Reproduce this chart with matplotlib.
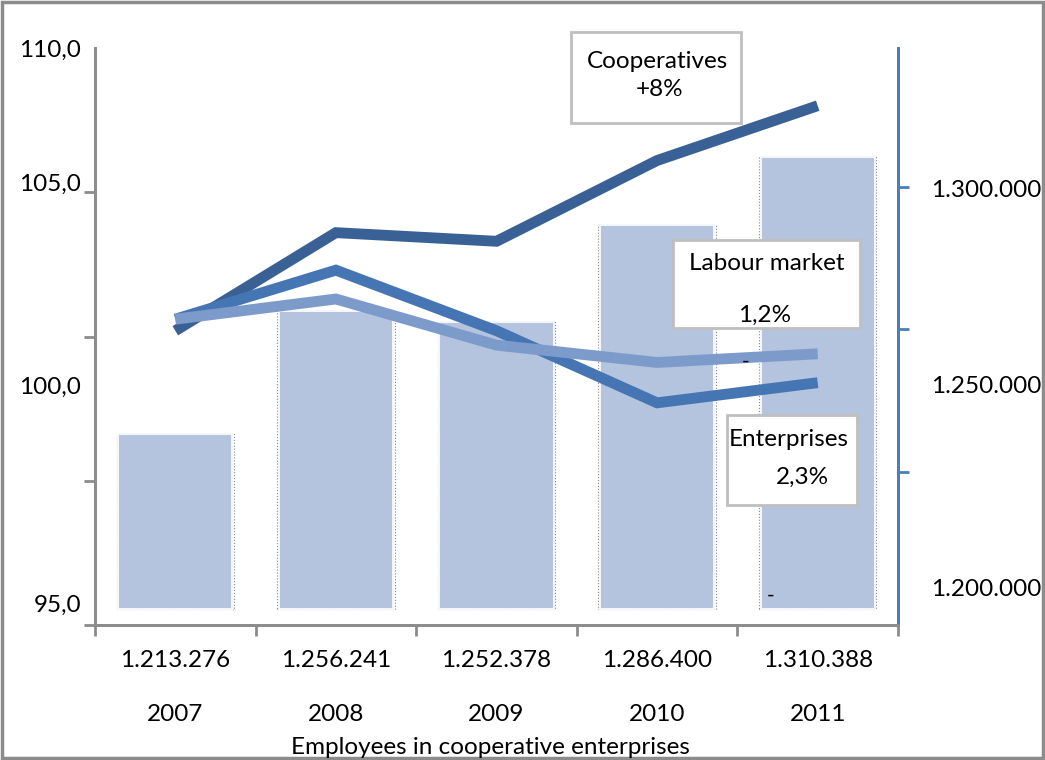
import matplotlib
matplotlib.use('Agg')
import matplotlib.pyplot as plt
from matplotlib.patches import Rectangle

plt.rcParams['font.family'] = ['Lato', 'DejaVu Sans']

# data
years = ['2007', '2008', '2009', '2010', '2011']
employees = [1213276, 1256241, 1252378, 1286400, 1310388]
employee_labels = ['1.213.276', '1.256.241', '1.252.378', '1.286.400', '1.310.388']
cooperatives = [100.2, 103.6, 103.3, 106.1, 108.0]
enterprises = [100.6, 102.3, 100.2, 97.7, 98.4]
labour_market = [100.6, 101.3, 99.7, 99.1, 99.4]

W, H = 1045, 760
FS = 17.5
fig = plt.figure(figsize=(W / 100, H / 100), dpi=100)

def fx(x):
    return x / W

def fy(y):
    return 1 - y / H

GRAY = '#8C8C8C'
BLUE_AX = '#4A7EBB'

ax = fig.add_axes([fx(95), fy(625), fx(898) - fx(95), fy(48) - fy(625)])
ax2 = ax.twinx()

x = list(range(len(years)))

# bars (right axis)
ax.bar(x, [e - 1152000 for e in employees], bottom=1152000, width=0.71,
       color='#B4C3DE', edgecolor='#F4F6FA', linewidth=1.5, zorder=2)
ax.bar(x, [e - 1152000 for e in employees], bottom=1152000, width=0.73,
       fill=False, edgecolor='#333333', linestyle=':', linewidth=0.8, alpha=0.6, zorder=1)
ax.set_ylim(1146300, 1348600)
ax.set_xlim(-0.5, 4.5)
ax.yaxis.tick_right()
ax.set_yticks([1299500, 1230500, 1159300],
              labels=['1.300.000', '1.250.000', '1.200.000'])
ax.set_yticks([1200000, 1250000, 1300000], minor=True)
ax.tick_params(axis='y', which='major', length=0, pad=24, labelsize=FS)
ax.tick_params(axis='y', which='minor', length=8, width=2, color=BLUE_AX, direction='out')
ax.set_xticks([-0.5, 0.5, 1.5, 2.5, 3.5, 4.5], labels=[])
ax.tick_params(axis='x', length=8, width=2, color=GRAY, direction='out')

# lines (left axis)
ax2.plot(x, cooperatives, color='#3A6195', linewidth=7.8, solid_capstyle='butt',
         solid_joinstyle='miter', zorder=3)
ax2.plot(x, enterprises, color='#4675B4', linewidth=7.8, solid_capstyle='butt',
         solid_joinstyle='miter', zorder=4)
ax2.plot(x, labour_market, color='#7D9BCA', linewidth=7.8, solid_capstyle='butt',
         solid_joinstyle='miter', zorder=5)
ax2.set_ylim(90, 110)
ax2.yaxis.tick_left()
ax2.set_yticks([110, 105.36, 98.32, 90.75], labels=['110,0', '105,0', '100,0', '95,0'])
ax2.set_yticks([90, 95, 100, 105, 110], minor=True)
ax2.tick_params(axis='y', which='major', length=0, pad=10, labelsize=FS)
ax2.tick_params(axis='y', which='minor', length=8, width=2, color=GRAY, direction='out')

for a in (ax, ax2):
    a.spines['top'].set_visible(False)
    a.spines['left'].set_color(GRAY)
    a.spines['left'].set_linewidth(2)
    a.spines['bottom'].set_color(GRAY)
    a.spines['bottom'].set_linewidth(2)
    a.spines['right'].set_color(BLUE_AX)
    a.spines['right'].set_linewidth(2)
ax.patch.set_visible(False)
ax2.patch.set_visible(False)

# category labels
tr = ax.get_xaxis_transform()
for i in x:
    ax.text(i, -0.062, employee_labels[i], transform=tr, ha='center', va='center', fontsize=FS)
    ax.text(i, -0.155, years[i], transform=tr, ha='center', va='center', fontsize=FS)
fig.text(fx(490), fy(748), 'Employees in cooperative enterprises', ha='center', va='center',
         fontsize=FS)

# annotation boxes
def box(x0, y0, x1, y1):
    fig.patches.append(Rectangle((fx(x0), fy(y1)), fx(x1) - fx(x0), fy(y0) - fy(y1),
                                 transform=fig.transFigure, facecolor='white',
                                 edgecolor='#BFBFBF', linewidth=2, zorder=10))

box(571, 32, 741, 123)
fig.text(fx(658), fy(62), 'Cooperatives', ha='center', va='center', fontsize=FS, zorder=11)
fig.text(fx(660), fy(89), '+8%', ha='center', va='center', fontsize=FS, zorder=11)
box(673, 240, 860, 328)
fig.text(fx(767), fy(263), 'Labour market', ha='center', va='center', fontsize=FS, zorder=11)
fig.text(fx(765), fy(315), '1,2%', ha='center', va='center', fontsize=FS, zorder=11)
box(727, 415, 857, 505)
fig.text(fx(789), fy(439), 'Enterprises', ha='center', va='center', fontsize=FS, zorder=11)
fig.text(fx(802), fy(477), '2,3%', ha='center', va='center', fontsize=FS, zorder=11)
fig.text(fx(746), fy(362), '-', ha='center', va='center', fontsize=15, zorder=11)
fig.text(fx(771), fy(596), '-', ha='center', va='center', fontsize=15, zorder=11)

# outer frame
fig.patches.append(Rectangle((0.002, 0.003), 0.996, 0.994, transform=fig.transFigure,
                             fill=False, edgecolor=GRAY, linewidth=2.5))

fig.savefig('out.png', dpi=100)
